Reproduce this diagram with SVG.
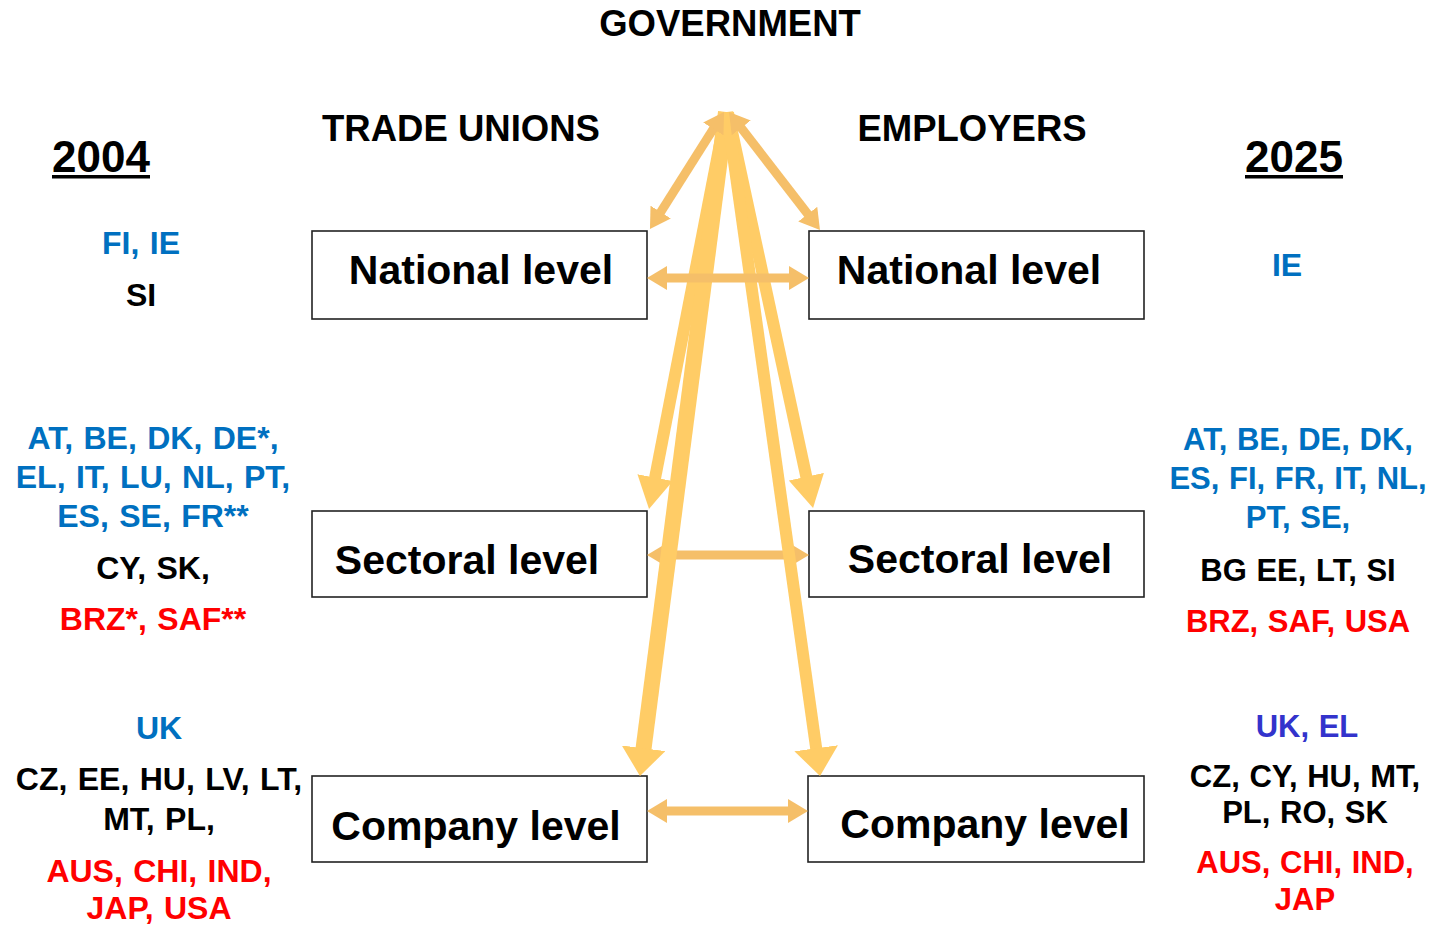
<svg xmlns="http://www.w3.org/2000/svg" width="1439" height="926" viewBox="0 0 1439 926">
<style>
text{font-family:"Liberation Sans",Arial,sans-serif;font-weight:bold;text-anchor:middle}
.hdr{font-size:36.5px;fill:#000}
.yr{font-size:44px;fill:#000}
.box{fill:#fff;stroke:#222;stroke-width:1.6}
.lbl{font-size:41px;fill:#000}
.c{font-size:32px;word-spacing:1.5px}
.cr{font-size:31px;word-spacing:1px}
.b{fill:#0070C0}
.k{fill:#000}
.r{fill:#FF0000}
.p{fill:#3333CC}
.o{stroke:#F5BF69;stroke-width:9;fill:none}
.y1{stroke:#FFCC66;stroke-width:12;fill:none}
.y2{stroke:#FFCC66;stroke-width:16;fill:none}
</style>
<defs>
<marker id="mo" markerUnits="userSpaceOnUse" markerWidth="20" markerHeight="24" viewBox="0 0 20 24" refX="5" refY="12" orient="auto-start-reverse"><path d="M0,0 L20,12 L0,24 Z" fill="#F5BF69"/></marker>
<marker id="ms" markerUnits="userSpaceOnUse" markerWidth="32" markerHeight="36" viewBox="0 0 32 36" refX="8" refY="18" orient="auto"><path d="M0,0 L32,18 L0,36 Z" fill="#FFCC66"/></marker>
<marker id="mc" markerUnits="userSpaceOnUse" markerWidth="28" markerHeight="44" viewBox="0 0 28 44" refX="6" refY="22" orient="auto"><path d="M0,0 L28,22 L0,44 Z" fill="#FFCC66"/></marker>
</defs>

<g id="titles">
<text class="hdr" x="730" y="36">GOVERNMENT</text>
<text class="hdr" x="461" y="141">TRADE UNIONS</text>
<text class="hdr" x="972" y="141">EMPLOYERS</text>
<text class="yr" x="101" y="172">2004</text>
<rect x="52" y="175" width="98" height="3.5" fill="#000"/>
<text class="yr" x="1294" y="172">2025</text>
<rect x="1245" y="175" width="98" height="3.5" fill="#000"/>
</g>

<g id="tu-national"><rect class="box" x="312" y="231" width="335" height="88"/><text class="lbl" x="481" y="284">National level</text></g>
<g id="emp-national"><rect class="box" x="809" y="231" width="335" height="88"/><text class="lbl" x="969" y="284">National level</text></g>
<g id="tu-sectoral"><rect class="box" x="312" y="511" width="335" height="86"/><text class="lbl" x="467" y="574">Sectoral level</text></g>
<g id="emp-sectoral"><rect class="box" x="809" y="511" width="335" height="86"/><text class="lbl" x="980" y="573">Sectoral level</text></g>
<g id="tu-company"><rect class="box" x="312" y="776" width="335" height="86"/><text class="lbl" x="476" y="840">Company level</text></g>
<g id="emp-company"><rect class="box" x="808" y="776" width="336" height="86"/><text class="lbl" x="985" y="838">Company level</text></g>

<g id="left-2004">
<text class="c b" x="141" y="254">FI, IE</text>
<text class="c k" x="141" y="306">SI</text>
<text class="c b" x="153" y="449">AT, BE, DK, DE*,</text>
<text class="c b" x="153" y="488">EL, IT, LU, NL, PT,</text>
<text class="c b" x="153" y="527">ES, SE, FR**</text>
<text class="c k" x="153" y="579">CY, SK,</text>
<text class="c r" x="153" y="630">BRZ*, SAF**</text>
<text class="c b" x="159" y="739">UK</text>
<text class="c k" x="159" y="790">CZ, EE, HU, LV, LT,</text>
<text class="c k" x="159" y="830">MT, PL,</text>
<text class="c r" x="159" y="882">AUS, CHI, IND,</text>
<text class="c r" x="159" y="919">JAP, USA</text>
</g>

<g id="right-2025">
<text class="c b" x="1287" y="276">IE</text>
<text class="cr b" x="1298" y="450">AT, BE, DE, DK,</text>
<text class="cr b" x="1298" y="489">ES, FI, FR, IT, NL,</text>
<text class="cr b" x="1298" y="528">PT, SE,</text>
<text class="cr k" x="1298" y="581">BG EE, LT, SI</text>
<text class="cr r" x="1298" y="632">BRZ, SAF, USA</text>
<text class="cr p" x="1307" y="737">UK, EL</text>
<text class="cr k" x="1305" y="787">CZ, CY, HU, MT,</text>
<text class="cr k" x="1305" y="823">PL, RO, SK</text>
<text class="cr r" x="1305" y="873">AUS, CHI, IND,</text>
<text class="cr r" x="1305" y="910">JAP</text>
</g>

<g id="connectors">
<line class="o" x1="662" y1="555" x2="794" y2="555" marker-start="url(#mo)" marker-end="url(#mo)"/>
<line class="o" x1="662" y1="811" x2="793" y2="811" marker-start="url(#mo)" marker-end="url(#mo)"/>
<line class="y1" x1="726" y1="113" x2="653.6" y2="485.5" marker-end="url(#ms)"/>
<line class="y2" x1="726" y1="112" x2="642.8" y2="754.2" marker-end="url(#mc)"/>
<line class="y1" x1="728" y1="113" x2="808" y2="484.5" marker-end="url(#ms)"/>
<line class="y1" x1="727" y1="112" x2="817" y2="754.2" marker-end="url(#mc)"/>
<line class="o" x1="716" y1="124.7" x2="658" y2="216.3" marker-start="url(#mo)" marker-end="url(#mo)"/>
<line class="o" x1="738.2" y1="123.9" x2="810.8" y2="218.1" marker-start="url(#mo)" marker-end="url(#mo)"/>
<line class="o" x1="662" y1="278" x2="794" y2="278" marker-start="url(#mo)" marker-end="url(#mo)"/>
</g>
</svg>
